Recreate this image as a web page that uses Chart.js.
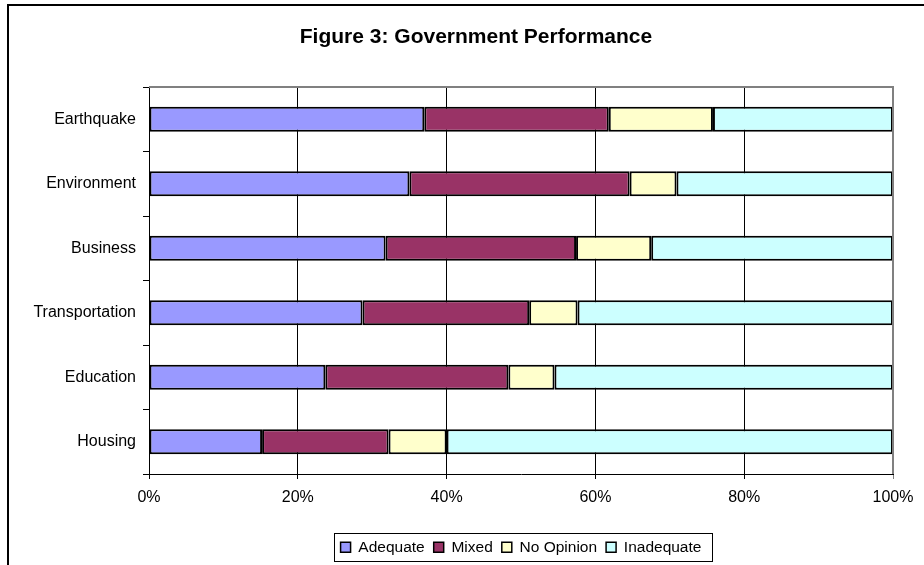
<!DOCTYPE html>
<html>
<head>
<meta charset="utf-8">
<script src="https://cdn.jsdelivr.net/npm/chart.js@4/dist/chart.umd.min.js"></script>
<style>
  html, body { margin: 0; padding: 0; background: #fff; overflow: hidden; }
  #wrap { position: relative; width: 924px; height: 565px; overflow: hidden; }
  .edge { position: absolute; background: #000; }
  #edgeTop { left: 7px; top: 4px; width: 917px; height: 2px; }
  #edgeLeft { left: 7px; top: 4px; width: 2px; height: 561px; }
  canvas { position: absolute; left: 0; top: 0; }
</style>
</head>
<body>
<div id="wrap">
  <canvas id="c" width="924" height="565"></canvas>
  <div class="edge" id="edgeTop"></div>
  <div class="edge" id="edgeLeft"></div>
</div>
<script>
const title = 'Figure 3: Government Performance';
const categories = ['Earthquake', 'Environment', 'Business', 'Transportation', 'Education', 'Housing'];
const seriesNames = ['Adequate', 'Mixed', 'No Opinion', 'Inadequate'];
const adequate   = [37.0, 35.0, 31.8, 28.7, 23.7, 15.2];
const mixed      = [24.8, 29.6, 25.6, 22.4, 24.6, 17.0];
const noOpinion  = [14.0,  6.3, 10.1,  6.5,  6.2,  7.8];
const inadequate = [24.2, 29.1, 32.5, 42.4, 45.5, 60.0];
const xTicks = [0, 20, 40, 60, 80, 100];

const colors = ['#9999FF', '#993366', '#FFFFCC', '#CCFFFF'];
const values = [adequate, mixed, noOpinion, inadequate];
const FONT = "'Liberation Sans', Arial, sans-serif";

const datasets = seriesNames.map((name, i) => ({
  label: name,
  data: values[i],
  backgroundColor: colors[i],
  borderColor: '#000',
  borderWidth: 2,
  borderSkipped: false,
  barPercentage: 0.39,
  categoryPercentage: 1.0
}));

const decor = {
  id: 'decor',
  afterDraw(chart) {
    const ctx = chart.ctx;
    const a = chart.chartArea;
    ctx.save();
    // plot frame (top and right, gray)
    ctx.strokeStyle = '#808080';
    ctx.lineWidth = 2;
    ctx.beginPath();
    ctx.moveTo(a.left, a.top);
    ctx.lineTo(a.right, a.top);
    ctx.lineTo(a.right, a.bottom);
    ctx.stroke();
    // title
    ctx.fillStyle = '#000';
    ctx.font = 'bold 21px ' + FONT;
    ctx.textAlign = 'center';
    ctx.textBaseline = 'alphabetic';
    ctx.fillText(title, 476, 43);
    // legend frame
    const lg = chart.legend;
    if (lg && lg.legendHitBoxes && lg.legendHitBoxes.length) {
      const hb = lg.legendHitBoxes;
      const first = hb[0], last = hb[hb.length - 1];
      const cy = first.top + first.height / 2;
      const l = Math.round(first.left - 7) + 0.5;
      const r = Math.round(last.left + last.width + 11) + 0.5;
      const t = Math.round(cy - 14) + 0.5;
      const b = Math.round(cy + 14) + 0.5;
      ctx.strokeStyle = '#000';
      ctx.lineWidth = 1;
      ctx.strokeRect(l, t, r - l, b - t);
    }
    ctx.restore();
  }
};

new Chart(document.getElementById('c'), {
  type: 'bar',
  data: { labels: categories, datasets },
  plugins: [decor],
  options: {
    indexAxis: 'y',
    responsive: false,
    animation: false,
    layout: { padding: { left: 0, right: 31, top: 87, bottom: 0 } },
    plugins: {
      title: { display: false },
      tooltip: { enabled: false },
      legend: {
        position: 'bottom',
        fullSize: false,
        labels: {
          color: '#000',
          font: { family: FONT, size: 15.5 },
          boxWidth: 10,
          boxHeight: 10,
          padding: 9,
          generateLabels(chart) {
            const items = Chart.defaults.plugins.legend.labels.generateLabels(chart);
            items.forEach(it => { it.lineWidth = 1.5; it.strokeStyle = '#000'; });
            return items;
          }
        }
      }
    },
    scales: {
      x: {
        stacked: true,
        min: 0,
        max: 100,
        afterBuildTicks(scale) { scale.ticks = xTicks.map(v => ({ value: v })); },
        afterFit(scale) { scale.height = 56.5; },
        ticks: {
          color: '#000',
          font: { family: FONT, size: 16 },
          padding: 9,
          maxRotation: 0,
          callback: v => v + '%'
        },
        grid: {
          color: ctx => (ctx.tick && ctx.tick.value === 100) ? '#808080' : '#000',
          lineWidth: 1,
          tickLength: 5,
          drawTicks: true
        },
        border: { color: '#000', width: 1 }
      },
      y: {
        stacked: true,
        afterFit(scale) { scale.width = 149; },
        ticks: {
          color: '#000',
          font: { family: FONT, size: 16 },
          padding: 7
        },
        grid: {
          offset: true,
          drawOnChartArea: false,
          drawTicks: true,
          tickLength: 6,
          color: '#000',
          lineWidth: 1
        },
        border: { color: '#000', width: 1 }
      }
    }
  }
});
</script>
</body>
</html>
